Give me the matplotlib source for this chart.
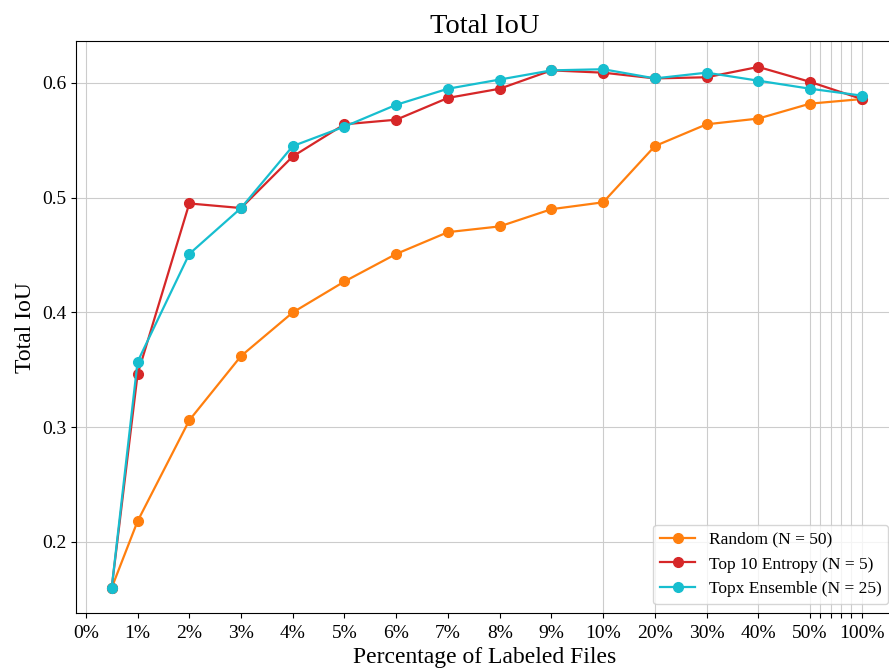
import numpy as np
import matplotlib
matplotlib.use("Agg")
import matplotlib.pyplot as plt
from matplotlib.ticker import FixedLocator

plt.rcParams['font.family'] = ['Liberation Serif', 'DejaVu Serif']

# percentage of labeled files
pct = [0.5, 1, 2, 3, 4, 5, 6, 7, 8, 9, 10, 20, 30, 40, 50, 100]

## total IoU per strategy
iou_random = [0.160, 0.218, 0.306, 0.362, 0.400, 0.427, 0.451, 0.470, 0.475,
              0.490, 0.496, 0.545, 0.564, 0.569, 0.582, 0.586]
iou_entropy = [0.160, 0.346, 0.495, 0.491, 0.536, 0.564, 0.568, 0.587, 0.595,
               0.611, 0.609, 0.604, 0.605, 0.614, 0.601, 0.586]
iou_ensemble = [0.160, 0.357, 0.451, 0.491, 0.545, 0.562, 0.581, 0.595, 0.603,
                0.611, 0.612, 0.604, 0.609, 0.602, 0.595, 0.589]

labels = ['Random (N = 50)', 'Top 10 Entropy (N = 5)', 'Topx Ensemble (N = 25)']

tick_pos = list(range(0, 11)) + [20, 30, 40, 50, 60, 70, 80, 90, 100]
tick_lbl = ['%d%%' % t if (t <= 50 or t == 100) else '' for t in tick_pos]


## piecewise x scale: 0-10 linear, 10-50 squeezed, 50-100 squeezed more
def fwd(x):
    x = np.asarray(x, dtype=float)
    return np.where(x <= 10, x,
                    np.where(x <= 50, 10 + (x - 10) * 0.1, 14 + (x - 50) * 0.02))


def inv(u):
    u = np.asarray(u, dtype=float)
    return np.where(u <= 10, u,
                    np.where(u <= 14, 10 + (u - 10) / 0.1, 50 + (u - 14) / 0.02))


fig = plt.figure(figsize=(8.89, 6.69), dpi=100)
ax = fig.add_axes([0.0855, 0.0837, 0.92, 0.855])
ax.set_xscale('function', functions=(fwd, inv))

ax.plot(pct, iou_random, color='#ff7f0e', marker='o', markersize=7, linewidth=1.6)
ax.plot(pct, iou_entropy, color='#d62728', marker='o', markersize=7, linewidth=1.6)
ax.plot(pct, iou_ensemble, color='#17becf', marker='o', markersize=7, linewidth=1.6)

ax.set_xlim(-0.19, 131)
ax.set_ylim(0.138, 0.6366)

ax.xaxis.remove_overlapping_locs = False
ax.xaxis.set_major_locator(FixedLocator(tick_pos))
ax.set_xticklabels(tick_lbl)
ax.xaxis.set_minor_locator(FixedLocator(list(range(0, 101, 10))))
ax.tick_params(axis='x', which='minor', length=0)
ax.tick_params(axis='x', which='major', pad=5)
ax.tick_params(axis='both', which='major', labelsize=14)
ax.set_yticks([0.2, 0.3, 0.4, 0.5, 0.6])

ax.grid(axis='y', which='major', color='#cccccc', linewidth=0.8)
ax.grid(axis='x', which='minor', color='#cccccc', linewidth=0.8)
ax.set_axisbelow(True)

ax.set_title('Total IoU', fontsize=20.5)
ax.set_xlabel('Percentage of Labeled Files', fontsize=17, labelpad=4)
ax.set_ylabel('Total IoU', fontsize=17)
ax.legend(labels, loc='lower right', fontsize=12.5, bbox_to_anchor=(1.004, 0.0))

## save plot
fig.savefig('out.png', dpi=100)
